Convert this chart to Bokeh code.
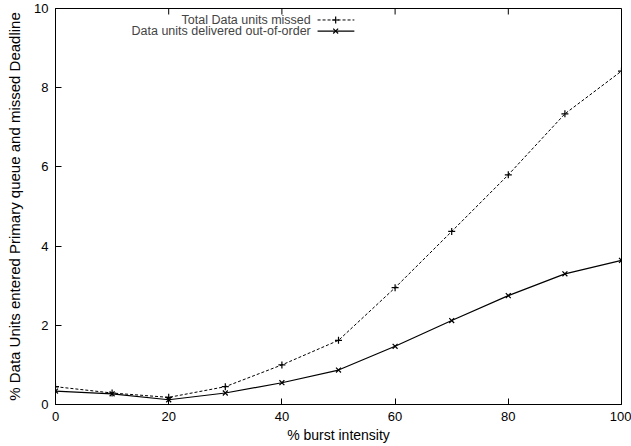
from bokeh.plotting import figure
from bokeh.models import Label, FixedTicker, Range1d
from bokeh.embed import file_html
from bokeh.resources import INLINE

burst = [0, 10, 20, 30, 40, 50, 60, 70, 80, 90, 100]
total_missed = [0.45, 0.29, 0.18, 0.45, 1.00, 1.62, 2.95, 4.37, 5.80, 7.34, 8.42]
out_of_order = [0.34, 0.27, 0.12, 0.29, 0.55, 0.87, 1.47, 2.12, 2.75, 3.30, 3.64]
x_ticks = [0, 20, 40, 60, 80, 100]
y_ticks = [0, 2, 4, 6, 8, 10]
series_names = ["Total Data units missed", "Data units delivered out-of-order"]

FONT = "Liberation Sans"
X_MIN, X_MAX, Y_MIN, Y_MAX = 0, 100, 0, 10

p = figure(width=631, height=446, x_range=Range1d(X_MIN, X_MAX), y_range=Range1d(Y_MIN, Y_MAX),
           output_backend="svg", toolbar_location=None,
           min_border_left=55, min_border_right=10, min_border_top=8, min_border_bottom=42,
           x_axis_label="% burst intensity",
           y_axis_label="% Data Units entered Primary queue and missed Deadline")
p.grid.visible = False
p.outline_line_color = "black"
p.outline_line_width = 1
p.background_fill_color = "white"
p.border_fill_color = "white"

for ax, ticks in ((p.xaxis[0], x_ticks), (p.yaxis[0], y_ticks)):
    ax.ticker = FixedTicker(ticks=ticks)
    ax.major_tick_in = 6
    ax.major_tick_out = 0
    ax.minor_tick_in = 0
    ax.minor_tick_out = 0
    ax.axis_line_color = "black"
    ax.major_tick_line_color = "black"
    ax.major_label_text_font = FONT
    ax.major_label_text_font_size = "13px"
    ax.major_label_text_color = "black"
    ax.axis_label_text_font = FONT
    ax.axis_label_text_font_size = "14px"
    ax.axis_label_text_font_style = "normal"
    ax.axis_label_text_color = "black"

p.xaxis[0].major_label_standoff = 7
p.xaxis[0].axis_label_standoff = 3
p.yaxis[0].major_label_standoff = 7
p.yaxis[0].axis_label_standoff = 8
p.yaxis[0].axis_label_text_font_size = "15px"

# mirrored ticks along the top edge (gnuplot style), pointing inward
tick_len = 6 * (Y_MAX - Y_MIN) / 396.0
p.segment(x0=x_ticks, y0=[Y_MAX] * len(x_ticks), x1=x_ticks, y1=[Y_MAX - tick_len] * len(x_ticks),
          line_color="black", line_width=1)

p.line(burst, total_missed, line_color="black", line_width=1, line_dash="3 2")
p.scatter(burst, total_missed, marker="cross", size=7, line_color="black", line_width=1.2)
p.line(burst, out_of_order, line_color="black", line_width=1.2)
p.scatter(burst, out_of_order, marker="x", size=7, line_color="black", line_width=1.2)

# legend (gnuplot style: text right-aligned, sample to the right)
leg_y = [9.71, 9.43]
leg_text_x = 45.1
leg_x0, leg_x1, leg_xm = 46.3, 52.8, 49.5
for i, name in enumerate(series_names):
    p.add_layout(Label(x=leg_text_x, y=leg_y[i], text=name, text_align="right",
                       text_baseline="middle", text_font=FONT, text_font_size="12.5px"))
p.line([leg_x0, leg_x1], [leg_y[0], leg_y[0]], line_color="black", line_width=1, line_dash="3 2")
p.scatter([leg_xm], [leg_y[0]], marker="cross", size=7, line_color="black", line_width=1.2)
p.line([leg_x0, leg_x1], [leg_y[1], leg_y[1]], line_color="black", line_width=1.2)
p.scatter([leg_xm], [leg_y[1]], marker="x", size=7, line_color="black", line_width=1.2)

open("out.html", "w").write(file_html(p, INLINE))
